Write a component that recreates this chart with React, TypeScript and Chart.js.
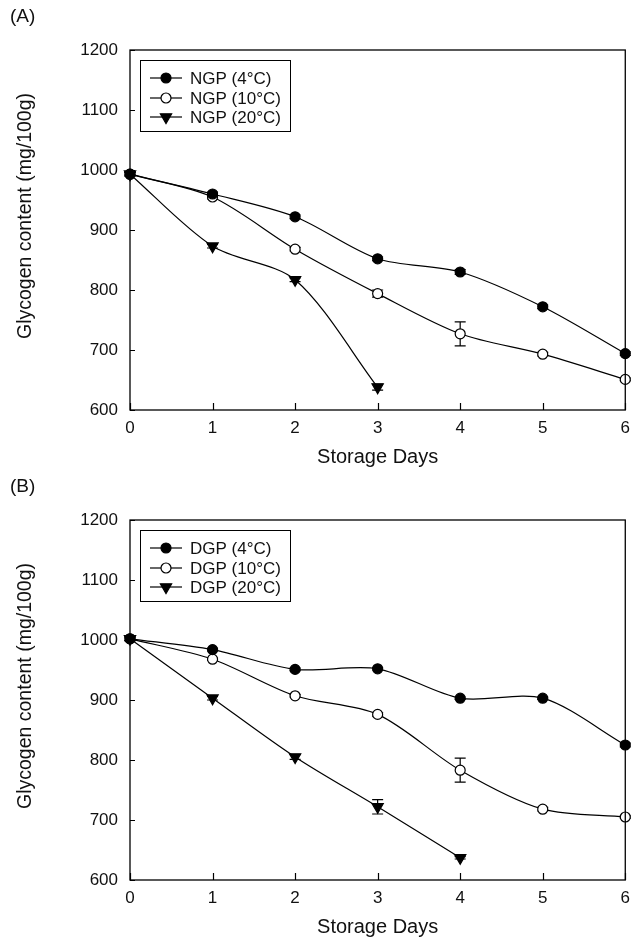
import React, { useEffect, useRef } from 'react';
import { Chart, registerables } from 'chart.js';
Chart.register(...registerables);

const days = [0, 1, 2, 3, 4, 5, 6];
const yMin = 600;
const yMax = 1200;
const yStep = 100;

const ngp4 = [993, 960, 922, 852, 830, 772, 694];
const ngp4Err = [3, 3, 3, 3, 4, 3, 3];
const ngp10 = [993, 955, 868, 794, 727, 693, 651];
const ngp10Err = [3, 3, 3, 6, 20, 3, 2];
const ngp20 = [993, 873, 817, 638];
const ngp20Err = [3, 3, 3, 5];

const dgp4 = [1002, 984, 951, 952, 903, 903, 825];
const dgp4Err = [3, 2, 2, 2, 2, 2, 3];
const dgp10 = [1002, 968, 907, 876, 783, 718, 705];
const dgp10Err = [3, 2, 2, 3, 20, 3, 2];
const dgp20 = [1002, 903, 805, 722, 637];
const dgp20Err = [3, 3, 4, 12, 2];

const labelsA = ['NGP (4°C)', 'NGP (10°C)', 'NGP (20°C)'];
const labelsB = ['DGP (4°C)', 'DGP (10°C)', 'DGP (20°C)'];

const FONT = 'Arial, "Liberation Sans", sans-serif';
const INK = '#111';

type Series = { label: string; values: number[]; errs: number[]; kind: 'filled' | 'open' | 'tri' };

function markerProps(kind: string) {
  if (kind === 'filled') return { pointStyle: 'circle', pointRadius: 5, pointBackgroundColor: '#000', pointRotation: 0 };
  if (kind === 'open') return { pointStyle: 'circle', pointRadius: 5, pointBackgroundColor: '#fff', pointRotation: 0 };
  return { pointStyle: 'triangle', pointRadius: 6.5, pointBackgroundColor: '#000', pointRotation: 180 };
}

function drawMarker(ctx: CanvasRenderingContext2D, kind: string, x: number, y: number) {
  ctx.save();
  ctx.lineWidth = 1.2;
  ctx.strokeStyle = '#000';
  ctx.beginPath();
  if (kind === 'tri') {
    const r = 6.5;
    ctx.moveTo(x - r * 0.866, y - r * 0.5);
    ctx.lineTo(x + r * 0.866, y - r * 0.5);
    ctx.lineTo(x, y + r);
    ctx.closePath();
    ctx.fillStyle = '#000';
  } else {
    ctx.arc(x, y, 5, 0, Math.PI * 2);
    ctx.fillStyle = kind === 'filled' ? '#000' : '#fff';
  }
  ctx.fill();
  ctx.stroke();
  ctx.restore();
}

function makeConfig(series: Series[], panelLabel: string): any {
  const panelPlugin = {
    id: 'panelDeco',
    beforeDatasetsDraw(chart: any) {
      const ctx = chart.ctx;
      const xs = chart.scales.x;
      const ys = chart.scales.y;
      ctx.save();
      ctx.strokeStyle = '#000';
      ctx.lineWidth = 1.2;
      series.forEach((s) => {
        s.values.forEach((v, i) => {
          const e = s.errs[i] || 0;
          if (!e) return;
          const px = xs.getPixelForValue(days[i]);
          const y1 = ys.getPixelForValue(v + e);
          const y2 = ys.getPixelForValue(v - e);
          ctx.beginPath();
          ctx.moveTo(px, y1);
          ctx.lineTo(px, y2);
          ctx.moveTo(px - 5.5, y1);
          ctx.lineTo(px + 5.5, y1);
          ctx.moveTo(px - 5.5, y2);
          ctx.lineTo(px + 5.5, y2);
          ctx.stroke();
        });
      });
      ctx.restore();
    },
    afterDraw(chart: any) {
      const ctx = chart.ctx;
      const a = chart.chartArea;
      const xs = chart.scales.x;
      const ys = chart.scales.y;
      ctx.save();
      // frame
      ctx.strokeStyle = '#000';
      ctx.lineWidth = 1.3;
      ctx.strokeRect(a.left, a.top, a.right - a.left, a.bottom - a.top);
      // inward ticks
      ctx.lineWidth = 1.2;
      ctx.beginPath();
      ys.ticks.forEach((t: any) => {
        const py = Math.round(ys.getPixelForValue(t.value)) + 0.5;
        ctx.moveTo(a.left, py);
        ctx.lineTo(a.left + 5, py);
      });
      xs.ticks.forEach((t: any) => {
        const px = Math.round(xs.getPixelForValue(t.value)) + 0.5;
        ctx.moveTo(px, a.bottom);
        ctx.lineTo(px, a.bottom - 7);
      });
      ctx.stroke();
      // panel label
      ctx.fillStyle = INK;
      ctx.font = `19px ${FONT}`;
      ctx.textAlign = 'left';
      ctx.textBaseline = 'middle';
      ctx.fillText(panelLabel, 10, 17);
      // y title
      ctx.save();
      ctx.translate(26, (a.top + a.bottom) / 2 - 14);
      ctx.rotate(-Math.PI / 2);
      ctx.font = `19.5px ${FONT}`;
      ctx.textAlign = 'center';
      ctx.textBaseline = 'middle';
      ctx.fillText('Glycogen content (mg/100g)', 0, 0);
      ctx.restore();
      // legend
      const bx = a.left + 10;
      const by = a.top + 10;
      ctx.lineWidth = 1;
      ctx.strokeRect(bx + 0.5, by + 0.5, 150, 71);
      const rows = [by + 18, by + 38, by + 57];
      series.forEach((s, i) => {
        const ry = rows[i];
        ctx.beginPath();
        ctx.lineWidth = 1.2;
        ctx.moveTo(bx + 10, ry);
        ctx.lineTo(bx + 42, ry);
        ctx.stroke();
        drawMarker(ctx, s.kind, bx + 26, ry);
        ctx.fillStyle = INK;
        ctx.font = `17px ${FONT}`;
        ctx.textAlign = 'left';
        ctx.textBaseline = 'middle';
        ctx.fillText(s.label, bx + 50, ry + 1);
      });
      ctx.restore();
    },
  };

  return {
    type: 'line',
    data: {
      datasets: series.map((s) => ({
        label: s.label,
        data: s.values.map((v, i) => ({ x: days[i], y: v })),
        borderColor: '#000',
        borderWidth: 1.2,
        pointBorderColor: '#000',
        pointBorderWidth: 1.2,
        tension: 0.3,
        clip: false,
        ...markerProps(s.kind),
      })),
    },
    options: {
      animation: false,
      responsive: false,
      maintainAspectRatio: false,
      layout: { padding: { top: 50, right: 12, left: 0, bottom: 0 } },
      plugins: { legend: { display: false }, tooltip: { enabled: false } },
      scales: {
        x: {
          type: 'linear',
          min: 0,
          max: 6,
          grid: { display: false, drawTicks: false },
          border: { display: false },
          ticks: { stepSize: 1, color: INK, font: { family: FONT, size: 17 }, padding: 8, callback: (v: any) => String(v) },
          title: { display: true, text: 'Storage Days', color: INK, font: { family: FONT, size: 20 }, padding: { top: 0, bottom: 1 } },
          afterFit: (scale: any) => { scale.height = 60; },
        },
        y: {
          type: 'linear',
          min: yMin,
          max: yMax,
          grid: { display: false, drawTicks: false },
          border: { display: false },
          ticks: { stepSize: yStep, color: INK, font: { family: FONT, size: 17 }, padding: 12, callback: (v: any) => String(v) },
          afterFit: (scale: any) => { scale.width = 130; },
        },
      },
    },
    plugins: [panelPlugin],
  };
}

function Panel({ series, label, top }: { series: Series[]; label: string; top: number }) {
  const ref = useRef<HTMLCanvasElement>(null);
  useEffect(() => {
    if (!ref.current) return;
    const chart = new Chart(ref.current, makeConfig(series, label));
    return () => chart.destroy();
  }, []);
  return (
    <canvas
      ref={ref}
      width={638}
      height={470}
      style={{ position: 'absolute', left: 0, top, width: 638, height: 470 }}
    />
  );
}

export default function App() {
  const seriesA: Series[] = [
    { label: labelsA[0], values: ngp4, errs: ngp4Err, kind: 'filled' },
    { label: labelsA[1], values: ngp10, errs: ngp10Err, kind: 'open' },
    { label: labelsA[2], values: ngp20, errs: ngp20Err, kind: 'tri' },
  ];
  const seriesB: Series[] = [
    { label: labelsB[0], values: dgp4, errs: dgp4Err, kind: 'filled' },
    { label: labelsB[1], values: dgp10, errs: dgp10Err, kind: 'open' },
    { label: labelsB[2], values: dgp20, errs: dgp20Err, kind: 'tri' },
  ];
  return (
    <div style={{ position: 'absolute', left: 0, top: 0, width: 638, height: 944, background: '#fff' }}>
      <Panel series={seriesA} label="(A)" top={0} />
      <Panel series={seriesB} label="(B)" top={470} />
    </div>
  );
}
